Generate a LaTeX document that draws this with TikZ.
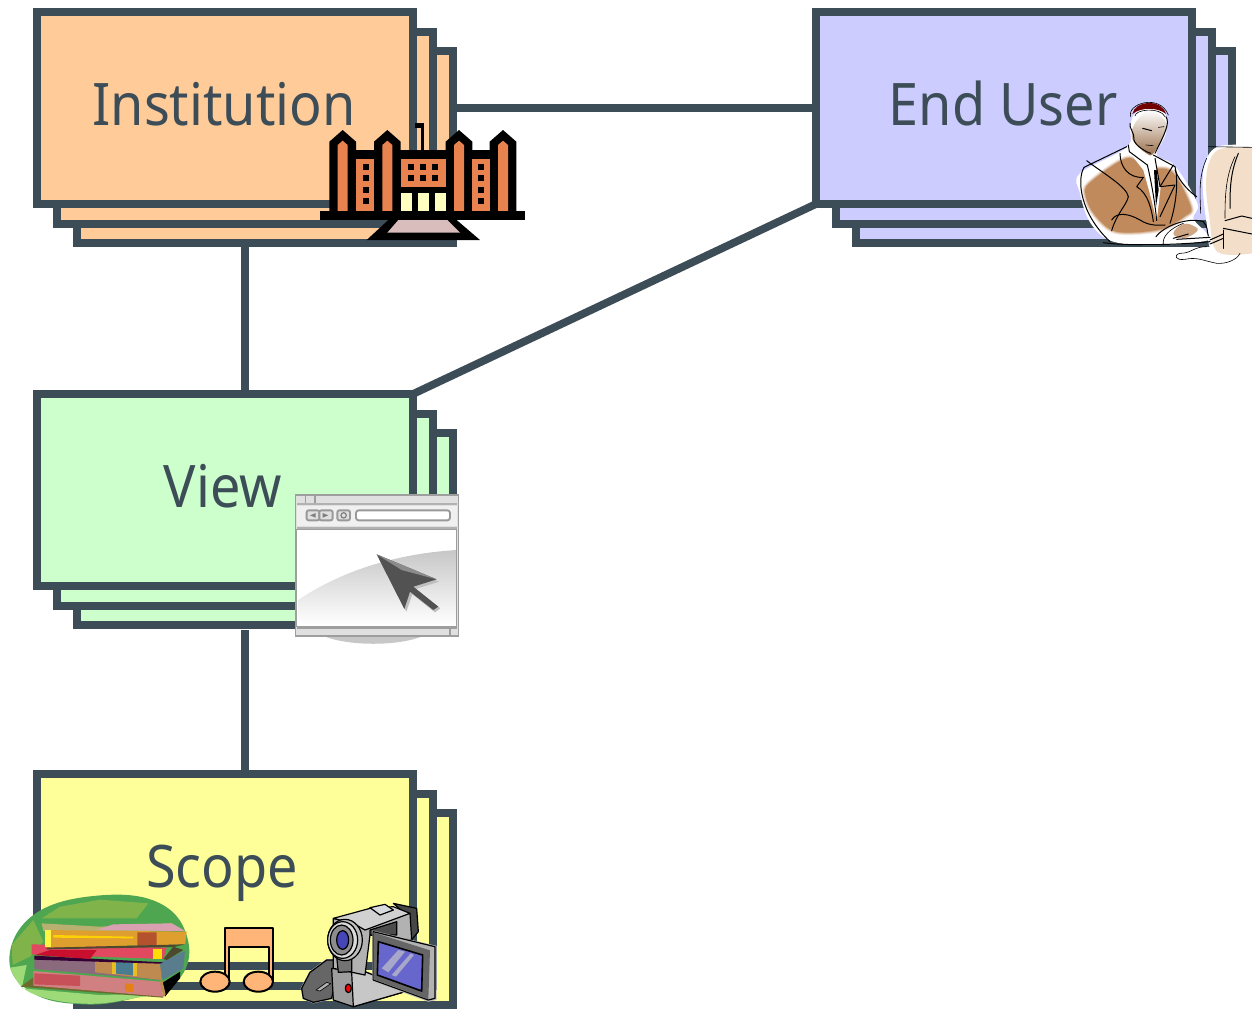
\documentclass[tikz,border=0pt]{standalone}
\usepackage{fontspec}
\setmainfont{Noto Sans}
\definecolor{ln}{HTML}{3D4D58}
\definecolor{inst}{HTML}{FFCC99}
\definecolor{eu}{HTML}{CCCCFF}
\definecolor{vw}{HTML}{CCFFCC}
\definecolor{sc}{HTML}{FFFF99}
\definecolor{brick}{HTML}{E8834F}
\definecolor{cream}{HTML}{FFFFC0}
\definecolor{skin}{HTML}{C08A5C}
\definecolor{stair}{HTML}{D9BCBC}
\definecolor{mon}{HTML}{F2DEC9}
\definecolor{gA}{HTML}{4FA650}
\definecolor{gB}{HTML}{80B44A}
\definecolor{gC}{HTML}{9EDB78}
\definecolor{nt}{HTML}{FFB577}
\definecolor{bOr}{HTML}{DF9F2F}
\definecolor{bOd}{HTML}{B5522E}
\definecolor{bRd}{HTML}{E2485F}
\definecolor{bRe}{HTML}{C8102E}
\definecolor{bPu}{HTML}{8A6A7C}
\definecolor{bTn}{HTML}{BE8A50}
\definecolor{bTe}{HTML}{4A7C92}
\definecolor{bPk}{HTML}{D08080}
\definecolor{bPd}{HTML}{C85058}
\definecolor{bTp}{HTML}{D8A0B0}
\definecolor{bOl}{HTML}{B8B070}
\definecolor{bSh}{HTML}{6B6B2B}
\tikzset{
 bx/.style={draw=ln,line width=5.8pt,rectangle,minimum width=282pt,minimum height=144pt,inner sep=0pt,outer sep=0pt,anchor=north west},
 conn/.style={draw=ln,line width=5.8pt},
 lbl/.style={text=ln,font=\fontsize{44}{50}\selectfont,anchor=base,inner sep=0pt},
 ink/.style={draw=black,line width=.75pt,line cap=round,line join=round},
 inkt/.style={draw=black,line width=.45pt,line cap=round,line join=round},
 cam/.style={draw=black,line width=.9pt,line join=round},
 nline/.style={draw=black,line width=1.5pt,line join=round},
 frm/.style={draw=black!38,line width=1.2pt},
}
\newcommand\stackbox[4]{%
 \node[bx,fill=#4] (#1c) at (#2+40,#3+39) {};
 \node[bx,fill=#4] (#1b) at (#2+20,#3+20) {};
 \node[bx,fill=#4] (#1a) at (#2,#3) {};
}
\newcommand\winbox[2]{\fill[black] (#1,#2) rectangle ++(18,18);}
\newcommand\tx[1]{\scalebox{.92}[1]{#1}}
\begin{document}
\begin{tikzpicture}[x=.75pt,y=-.75pt]
\useasboundingbox (0,0) rectangle (1252,1008);
\clip (0,0) rectangle (1252,1008);
\stackbox{inst}{37}{12}{inst}
\stackbox{user}{816}{12}{eu}
\stackbox{view}{37}{394}{vw}
\stackbox{scope}{37}{774}{sc}
\draw[conn] (instc.east |- usera.west) -- (usera.west);
\draw[conn] (instb.center |- instc.south) -- (instb.center |- viewa.north);
\draw[conn] (viewa.north east) -- (usera.south west);
\draw[conn] (viewb.center |- viewc.south) ++(0,5) -- (viewb.center |- scopea.north);
\node[lbl] (tinst) at (224,125) {\tx{Institution}};
\node[lbl] (tuser) at (1003,125) {\tx{End User}};
\node[lbl] (tview) at (223,507) {\tx{View}};
\node[lbl] (tscope) at (222,887) {\tx{Scope}};
% ---------- building
\begin{scope}[shift={(310,110)},x=.25pt,y=-.25pt]
\fill[black] (315,40) rectangle (343,53);
\fill[black] (333,40) rectangle (343,125);
\foreach \t in {58,192,407,539}{
 \fill[black] (\t,95) -- (\t+40,60) -- (\t+80,95) -- (\t+80,310) -- (\t,310) -- cycle;
}
\fill[black] (138,120) rectangle (539,310);
\foreach \t in {58,192,407,539}{
 \fill[brick] (\t+25,105) -- (\t+40,92) -- (\t+55,105) -- (\t+55,303) -- (\t+25,303) -- cycle;
}
\fill[brick] (138,147) rectangle (192,303);
\fill[brick] (487,147) rectangle (539,303);
\fill[brick] (272,147) rectangle (407,231);
\foreach \x in {272,324,375}{\fill[cream] (\x,249) rectangle ++(33,54);}
\foreach \x in {295,330,366}{\foreach \y in {162,195}{\winbox{\x}{\y}}}
\foreach \x in {159,504}{\foreach \y in {162,195,231,264}{\winbox{\x}{\y}}}
\fill[black] (30,303) rectangle (645,330);
\fill[black] (235,330) -- (440,330) -- (510,390) -- (170,390) -- cycle;
\fill[stair] (265,330) -- (412,330) -- (450,368) -- (232,368) -- cycle;
\end{scope}
% ---------- man at computer
\begin{scope}[shift={(1060,90)},x=.25pt,y=-.25pt]
\fill[white] plot[smooth cycle,tension=.6] coordinates {(60,250) (200,172) (210,110) (225,70) (270,50) (315,70) (318,130) (290,195) (345,228) (412,340) (400,385) (440,430) (440,452) (300,465) (160,455) (92,400) (60,310)};
% monitor
\fill[white] plot[smooth,tension=.6] coordinates {(576,165) (480,168) (440,205) (428,280) (440,400) (462,490) (576,495)} -- cycle;
\fill[mon] plot[smooth,tension=.6] coordinates {(576,172) (485,176) (450,210) (438,280) (448,380) (472,485) (576,490)} -- cycle;
% body
\def\bodyp{plot[smooth cycle,tension=.55] coordinates {(88,280) (200,205) (260,235) (335,245) (392,350) (375,378) (300,418) (170,425) (105,375) (78,320)}}
\draw[line width=4pt,draw=skin!18!white,fill=skin!18!white] \bodyp;
\draw[line width=2.6pt,draw=skin!42!white,fill=skin!42!white] \bodyp;
\draw[line width=1.3pt,draw=skin!70!white,fill=skin!70!white] \bodyp;
\fill[skin] \bodyp;
% shirt and tie
\fill[white] (212,192) -- (250,218) -- (282,205) -- (302,290) -- (290,395) -- (272,320) -- (250,240) -- cycle;
\fill[black] (282,240) -- (290,240) -- (296,300) -- (288,350) -- cycle;
% head
\def\headp{plot[smooth cycle,tension=.6] coordinates {(222,105) (265,62) (314,90) (314,130) (282,188) (262,192) (218,150)}}
\shade[top color=white,middle color=skin!88!black,bottom color=skin!80!black] \headp;
% hair
\fill[red!45!black] (217,72) .. controls (225,30) and (305,25) .. (318,72) .. controls (295,52) and (245,50) .. (217,72) -- cycle;
\draw[inkt] (225,78) .. controls (225,58) and (300,50) .. (315,80);
\draw[inkt] (212,80) .. controls (200,40) and (300,10) .. (325,75);
\draw[ink] (318,80) .. controls (330,100) and (315,130) .. (285,190);
\draw[ink] (210,100) .. controls (205,110) and (225,130) .. (222,150) .. controls (225,165) and (255,185) .. (272,190);
\draw[ink] (248,115) -- (275,122);
\draw[inkt] (295,112) -- (312,110);
\draw[inkt] (258,165) -- (280,167);
% jacket strokes
\draw[ink] (72,232) -- (200,170);
\draw[ink] (72,232) .. controls (50,270) and (60,370) .. (150,455);
\draw[ink] (80,212) .. controls (130,250) and (200,290) .. (205,320) .. controls (200,345) and (170,370) .. (155,422);
\draw[ink] (155,390) .. controls (170,365) and (205,370) .. (240,390) .. controls (270,410) and (300,405) .. (315,405);
\draw[ink] (180,190) .. controls (180,230) and (205,265) .. (250,262) -- (230,290) .. controls (265,310) and (275,360) .. (280,395);
\draw[ink] (205,165) -- (208,185) -- (262,225);
\draw[ink] (262,225) .. controls (275,280) and (285,340) .. (290,392);
\draw[ink] (285,205) -- (300,290) -- (340,225);
\draw[ink] (280,195) -- (345,230) .. controls (355,270) and (350,340) .. (330,400);
\draw[ink] (300,290) -- (345,285) -- (300,380);
\draw[ink] (345,240) .. controls (360,280) and (395,310) .. (410,320);
% hand
\fill[skin!75!white] plot[smooth cycle,tension=.7] coordinates {(340,430) (370,402) (405,410) (410,425) (370,445)};
\draw[ink] (288,440) .. controls (310,410) and (380,380) .. (430,395) .. controls (445,410) and (440,425) .. (445,438);
\draw[inkt] (310,465) .. controls (305,440) and (330,415) .. (370,400);
\draw[ink] (340,445) -- (385,432);
\draw[ink] (130,458) .. controls (200,468) and (350,465) .. (450,455);
\draw[ink] (350,448) -- (450,442);
% monitor lines
\draw[inkt] (445,170) -- (576,172);
\draw[inkt] (440,205) .. controls (415,260) and (420,310) .. (422,370);
\draw[ink] (535,190) .. controls (510,250) and (510,300) .. (510,355);
\draw[inkt] (525,200) .. controls (495,260) and (495,330) .. (495,385);
\draw[ink] (495,392) -- (545,378) -- (576,385);
\draw[ink] (490,415) -- (576,432);
\draw[ink] (490,420) -- (490,475);
\draw[ink] (450,450) -- (490,432);
\draw[ink] (450,462) -- (490,445);
% cable
\draw[inkt] (440,470) .. controls (400,470) and (395,490) .. (360,490) .. controls (340,495) and (345,512) .. (375,508) .. controls (410,500) and (430,512) .. (470,520) .. controls (500,522) and (530,510) .. (540,490);
\end{scope}
% ---------- browser
\begin{scope}[shift={(285,485)},x=.25pt,y=-.25pt]
\fill[black!22] (110,450) .. controls (180,485) and (350,485) .. (420,450) -- cycle;
\fill[black!12] (30,28) rectangle (522,455);
\draw[frm] (32,30) rectangle (520,453);
\fill[black!30] (35,55) rectangle (515,60);
\fill[black!30] (35,125) rectangle (515,133);
\fill[black!6] (35,62) rectangle (515,124);
\fill[white] (35,133) rectangle (515,425);
\shade[top color=black!22,middle color=black!6,bottom color=white] (40,345) .. controls (180,250) and (350,205) .. (515,195) -- (515,420) -- (40,420) -- cycle;
\fill[black!38] (35,425) rectangle (515,431);
\draw[frm] (35,133) rectangle (515,425);
\draw[black!38,line width=.9pt] (495,430) -- (495,453);
\draw[black!38,line width=.9pt] (62,30) -- (62,55);
\draw[black!38,line width=.9pt] (90,30) -- (90,55);
\draw[black!40,fill=black!12,line width=1.4pt,rounded corners=1.5pt] (65,76) rectangle (103,106);
\draw[black!40,fill=black!12,line width=1.4pt,rounded corners=1.5pt] (103,76) rectangle (143,106);
\draw[black!40,fill=black!12,line width=1.4pt,rounded corners=1.5pt] (157,76) rectangle (195,106);
\fill[black!50] (75,91) -- (92,84) -- (92,98) -- cycle;
\fill[black!50] (130,91) -- (113,84) -- (113,98) -- cycle;
\draw[black!50,line width=.9pt] (176,91) circle (8);
\draw[black!40,fill=white,line width=1.4pt,rounded corners=2pt] (213,76) rectangle (495,106);
\fill[black!25] (282,222) -- (462,290) -- (392,312) -- (466,370) -- (450,382) -- (382,328) -- (364,380) -- cycle;
\fill[black!68] (275,208) -- (455,283) -- (385,305) -- (460,365) -- (445,375) -- (375,320) -- (358,372) -- cycle;
\fill[black!45] (275,208) -- (455,283) -- (350,255) -- cycle;
\end{scope}
% ---------- books and notes
\begin{scope}[shift={(0,885)},x=.25pt,y=-.25pt]
\fill[gA] plot[smooth cycle,tension=.7] coordinates {(28,225) (100,90) (290,32) (480,55) (565,170) (530,290) (400,340) (250,358) (100,325)};
\fill[gB] (125,100) -- (410,100) -- (445,55) -- (300,44) -- (180,65) -- cycle;
\fill[gB] (35,180) -- (100,105) -- (130,170) -- (90,215) -- (38,240) -- cycle;
\fill[gC] plot[smooth,tension=.6] coordinates {(30,248) (70,310) (160,345) (290,356) (430,335) (500,325)} -- (300,330) -- (65,310) -- (80,240) -- cycle;
\fill[bSh] (62,305) -- (110,270) -- (480,310) -- (490,338) -- cycle;
% pink book
\fill[bPk] (100,258) -- (480,290) -- (490,335) -- (100,302) -- cycle;
\fill[bPd] (103,265) -- (240,272) -- (240,303) -- (103,298) -- cycle;
\fill[orange!80!gray] (375,295) -- (400,297) -- (400,322) -- (375,318) -- cycle;
\fill[black] (485,295) -- (540,260) -- (540,280) -- (495,335) -- cycle;
\fill[bTn] (480,290) -- (490,335) -- (497,328) -- (487,285) -- cycle;
% purple book
\fill[bPu] (103,222) -- (480,232) -- (485,285) -- (103,252) -- cycle;
\fill[bTn] (285,228) -- (480,232) -- (485,285) -- (285,262) -- cycle;
\fill[bTe] (340,230) -- (410,232) -- (410,272) -- (340,265) -- cycle;
\fill[bOr!70!yellow] (335,230) rectangle (347,266);
\fill[bOr!70!yellow] (400,232) rectangle (412,272);
\fill[bTe!70!gray] (480,232) -- (555,198) -- (550,250) -- (488,285) -- cycle;
\fill[black!60!violet] (103,212) -- (490,232) -- (480,236) -- (103,224) -- cycle;
% red book
\fill[bRd] (95,178) -- (500,188) -- (490,222) -- (95,208) -- cycle;
\fill[bRe] (150,195) -- (290,195) -- (270,222) -- (105,210) -- cycle;
\fill[yellow!80!orange] (460,192) rectangle (485,222);
\fill[black!60!olive] (490,222) -- (520,185) -- (550,195) -- (500,225) -- cycle;
% orange book
\fill[bOl] (125,115) -- (300,125) -- (515,115) -- (555,138) -- (130,138) -- cycle;
\fill[bTp] (290,135) -- (340,118) -- (515,115) -- (555,138) -- cycle;
\fill[bOr] (135,135) -- (560,140) -- (555,178) -- (140,188) -- cycle;
\fill[yellow!75!white] (135,135) rectangle (152,186);
\fill[bOd] (412,142) -- (470,142) -- (470,180) -- (412,183) -- cycle;
\fill[yellow!70!orange] (160,150) -- (400,155) -- (400,160) -- (160,158) -- cycle;
\fill[black!60!olive] (140,188) -- (555,178) -- (520,186) -- (140,193) -- cycle;
% notes
\fill[nt] (676,130) rectangle (816,185);
\fill[nt] (676,185) rectangle (688,290);
\fill[nt] (806,185) rectangle (818,290);
\draw[nline] (676,290) -- (676,130) -- (818,130) -- (818,290);
\draw[nline] (688,290) -- (688,185) -- (806,185) -- (806,290);
\draw[nline,fill=nt] (645,290) ellipse (44 and 30);
\draw[nline,fill=nt] (775,290) ellipse (44 and 30);
\end{scope}
% ---------- camera
\begin{scope}[shift={(290,885)},x=.25pt,y=-.25pt]
\draw[black!25,line width=1.5pt,fill=black!50,line join=round] (35,310) -- (60,262) -- (110,225) -- (140,225) -- (135,290) -- (125,340) -- (70,352) -- (40,340) -- cycle;
\draw[cam,fill=black!60] (35,310) -- (60,262) -- (110,225) -- (140,225) -- (135,290) -- (125,340) -- (70,352) -- (40,340) -- cycle;
\draw[inkt,fill=black!30] (78,315) -- (110,292) -- (122,296) -- (90,318) -- cycle;
\draw[cam,fill=black!72] (310,55) -- (380,70) -- (385,140) -- (360,170) -- (350,90) -- cycle;
\draw[cam,fill=black!38] (125,250) -- (130,345) -- (190,365) -- (345,320) -- (310,295) -- (225,260) -- cycle;
\draw[cam,fill=black!22] (185,262) -- (190,365) -- (345,320) -- (310,295) -- (225,260) -- cycle;
\draw[cam,fill=black!30] (190,115) -- (360,85) -- (365,165) -- (240,150) -- (225,270) -- (130,250) -- (130,100) -- cycle;
\draw[cam,fill=black!70] (240,135) -- (320,110) -- (320,150) -- (240,150) -- cycle;
\draw[cam,fill=black!18] (130,100) -- (240,70) -- (310,65) -- (360,85) -- (225,135) -- (190,115) -- cycle;
\draw[cam,fill=cyan!15!black!18] (240,68) -- (285,58) -- (310,75) -- (270,90) -- cycle;
\draw[cam,fill=black!55] (140,215) -- (185,220) -- (185,260) -- (145,262) -- cycle;
\draw[cam,fill=black!25] (165,165) ellipse (52 and 62);
\draw[cam,fill=black!15] (158,165) ellipse (45 and 55);
\draw[cam,fill=black!45] (155,165) ellipse (34 and 45);
\draw[cam,fill=blue!45!gray] (158,165) ellipse (18 and 28);
\draw[cam,fill=red] (175,310) ellipse (9 and 13);
\draw[black!25,line width=1.5pt] (250,140) -- (437,185) -- (437,342) -- (415,347) -- (250,287) -- cycle;
\draw[cam,fill=black!30] (250,140) -- (435,185) -- (435,340) -- (415,345) -- (250,285) -- cycle;
\fill[black!60] (250,142) -- (420,196) -- (415,343) -- (250,283) -- cycle;
\draw[black,line width=1.2pt,fill=blue!50!gray!80!white] (265,170) -- (398,210) -- (395,318) -- (262,270) -- cycle;
\fill[blue!25!gray!55!white] (275,250) -- (325,195) -- (345,200) -- (295,262) -- cycle;
\fill[blue!25!gray!55!white] (305,270) -- (362,205) -- (372,210) -- (318,275) -- cycle;
\end{scope}
\end{tikzpicture}
\end{document}
